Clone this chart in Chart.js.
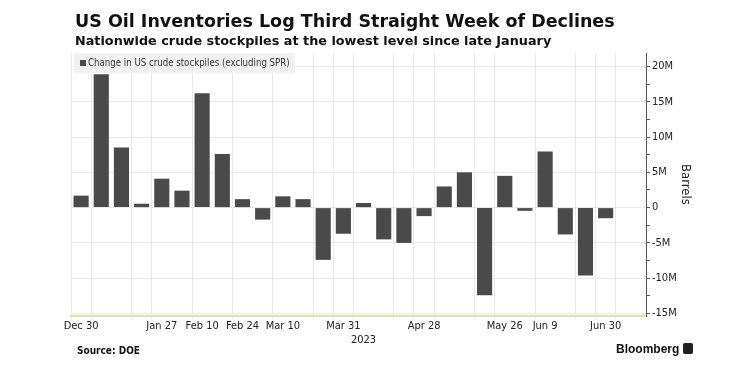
<!DOCTYPE html>
<html>
<head>
<meta charset="utf-8">
<script src="https://cdn.jsdelivr.net/npm/chart.js@4"></script>
<style>
  body { margin: 0; background: #fff; }
  #wrap { position: relative; width: 737px; height: 380px; overflow: hidden; font-family: "DejaVu Sans Condensed", "DejaVu Sans", sans-serif; color: #111; }
  #chart { position: absolute; left: 0; top: 0; }
  .titre { position: absolute; left: 75px; top: 10px; font-family: "DejaVu Sans", sans-serif; font-weight: bold; font-size: 17.5px; line-height: 22px; white-space: nowrap; }
  .soustitre { position: absolute; left: 75px; top: 32px; font-family: "DejaVu Sans", sans-serif; font-weight: bold; font-size: 12.8px; line-height: 17px; white-space: nowrap; }
  .legende { position: absolute; left: 74px; top: 53px; width: 221px; height: 20px; background: rgba(240,240,240,0.95); font-size: 9.6px; line-height: 20px; color: #333; white-space: nowrap; }
  .legende span.carre { display: inline-block; width: 6px; height: 6px; background: #4a4a4a; margin: 0 2px 0 6px; vertical-align: 0px; }
  .source { position: absolute; left: 77px; top: 345px; font-weight: bold; font-size: 10px; color: #111; }
  .bloomberg { position: absolute; left: 616px; top: 342px; font-family: "Liberation Sans", Arial, sans-serif; font-weight: bold; font-size: 12px; color: #111; white-space: nowrap; }
  .bloomberg .logo { display: inline-block; width: 10px; height: 11px; background: #222; border-radius: 2px; vertical-align: -1px; margin-left: 4px; }
</style>
</head>
<body>
<div id="wrap">
  <canvas id="chart" width="737" height="380"></canvas>
  <div class="titre">US Oil Inventories Log Third Straight Week of Declines</div>
  <div class="soustitre">Nationwide crude stockpiles at the lowest level since late January</div>
  <div class="legende"><span class="carre"></span>Change in US crude stockpiles (excluding SPR)</div>
  <div class="source">Source: DOE</div>
  <div class="bloomberg">Bloomberg<span class="logo"></span></div>
</div>
<script>
// semaines (fin de semaine, vendredi) et variation des stocks en millions de barils
const weeks = ['Dec 30', 'Jan 6', 'Jan 13', 'Jan 20', 'Jan 27', 'Feb 3', 'Feb 10', 'Feb 17', 'Feb 24',
  'Mar 3', 'Mar 10', 'Mar 17', 'Mar 24', 'Mar 31', 'Apr 7', 'Apr 14', 'Apr 21', 'Apr 28',
  'May 5', 'May 12', 'May 19', 'May 26', 'Jun 2', 'Jun 9', 'Jun 16', 'Jun 23', 'Jun 30'];
const changes = [1.7, 18.9, 8.5, 0.55, 4.1, 2.4, 16.2, 7.6, 1.2,
  -1.7, 1.6, 1.2, -7.4, -3.7, 0.65, -4.5, -5.0, -1.2,
  3.0, 5.0, -12.4, 4.5, -0.45, 7.95, -3.8, -9.6, -1.5];
// semaines vides a droite de l'axe
const extraWeeks = ['Jul 7', 'Jul 14'];
const tickWeeks = ['Dec 30', 'Jan 27', 'Feb 10', 'Feb 24', 'Mar 10', 'Mar 31', 'Apr 28', 'May 26', 'Jun 9', 'Jun 30'];
const yearLabel = '2023';
const yearWeek = 'Apr 7';
const gridWeeks = ['Dec 30', 'Jan 6', 'Jan 20', 'Jan 27', 'Feb 10', 'Feb 24', 'Mar 10', 'Mar 24', 'Mar 31',
  'Apr 7', 'Apr 21', 'Apr 28', 'May 5', 'May 19', 'May 26', 'Jun 9', 'Jun 23', 'Jun 30', 'Jul 7'];
const yTicks = [-15, -10, -5, 0, 5, 10, 15, 20];

const allWeeks = weeks.concat(extraWeeks);
const points = [];
for (let i = 0; i < changes.length; i++) {
  points.push({x: i, y: changes[i]});
}

function weekAt(value) {
  // seulement les valeurs entieres correspondent a une semaine
  if (!Number.isInteger(value)) return null;
  return allWeeks[value] || null;
}

const ctx = document.getElementById('chart');
const chart = new Chart(ctx, {
  type: 'bar',
  data: {
    datasets: [{
      label: 'Change in US crude stockpiles (excluding SPR)',
      data: points,
      backgroundColor: '#4a4a4a',
      borderWidth: 0,
      barPercentage: 0.75,
      categoryPercentage: 1.0
    }]
  },
  options: {
    responsive: false,
    animation: false,
    layout: { padding: { left: 71, top: 53, right: 44, bottom: 0 } },
    plugins: { legend: { display: false }, tooltip: { enabled: false } },
    scales: {
      x: {
        type: 'linear',
        min: -0.5,
        max: allWeeks.length - 1,
        offset: false,
        afterFit: function(scale) { scale.height = 64; },
        ticks: {
          stepSize: 1,
          includeBounds: false,
          autoSkip: false,
          maxRotation: 0,
          padding: 1,
          color: '#222',
          font: { family: '"DejaVu Sans Condensed", "DejaVu Sans", sans-serif', size: 11 },
          callback: function(value) {
            const w = weekAt(value);
            if (w === yearWeek) return ['', yearLabel];
            return tickWeeks.includes(w) ? w : '';
          }
        },
        grid: {
          color: function(c) {
            const w = c.tick ? weekAt(c.tick.value) : null;
            return gridWeeks.includes(w) ? '#e9e9e9' : 'rgba(0,0,0,0)';
          },
          tickLength: 3,
          drawTicks: true
        },
        border: { color: '#d3e6a8', width: 2 }
      },
      y: {
        position: 'right',
        min: -15.35,
        max: 21.9,
        afterFit: function(scale) { scale.width = 47; },
        ticks: {
          stepSize: 2.5,
          includeBounds: false,
          padding: 2,
          color: '#222',
          font: { family: '"DejaVu Sans Condensed", "DejaVu Sans", sans-serif', size: 11 },
          callback: function(value) {
            if (!yTicks.includes(value)) return '';
            return value === 0 ? '0' : value + 'M';
          }
        },
        grid: {
          color: function(c) {
            return yTicks.includes(c.tick ? c.tick.value : null) ? '#e9e9e9' : 'rgba(0,0,0,0)';
          },
          tickColor: '#555',
          tickLength: 4
        },
        border: { color: '#555', width: 1 },
        title: {
          display: true,
          text: 'Barrels',
          color: '#222',
          padding: { top: 0, bottom: 0 },
          font: { family: '"DejaVu Sans Condensed", "DejaVu Sans", sans-serif', size: 13 }
        }
      }
    }
  }
});
</script>
</body>
</html>
